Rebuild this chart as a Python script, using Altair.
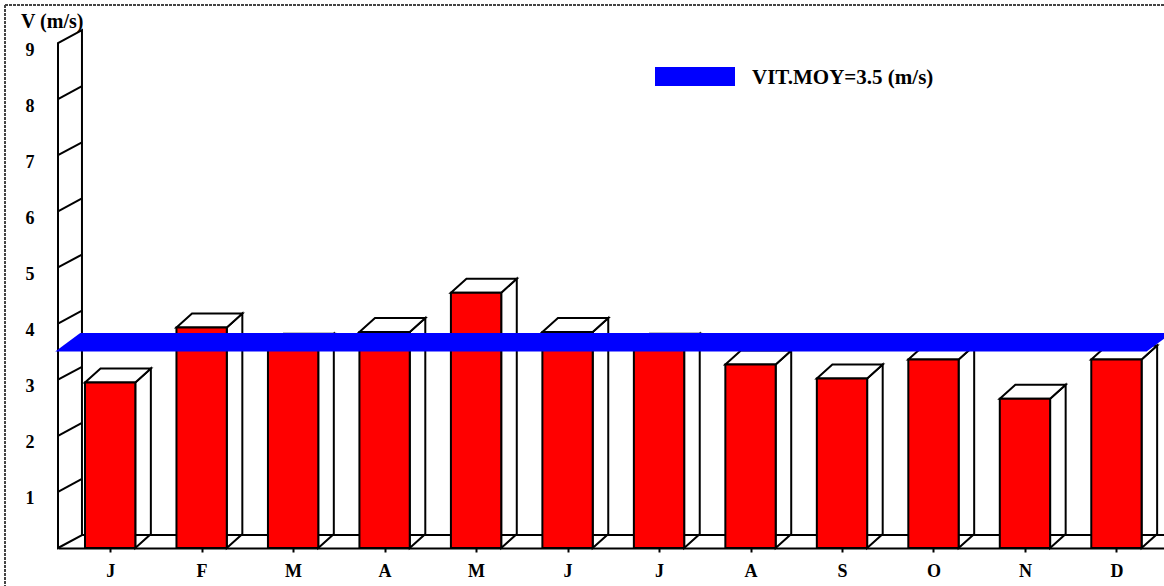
import json

import altair as alt
import pandas as pd

# Monthly mean wind speed (m/s)
months = ["J", "F", "M", "A", "M", "J", "J", "A", "S", "O", "N", "D"]
speeds = [2.95, 3.93, 3.57, 3.85, 4.55, 3.85, 3.57, 3.27, 3.02, 3.36, 2.66, 3.36]
mean_speed = 3.5
y_ticks = [1, 2, 3, 4, 5, 6, 7, 8, 9]
y_top = 9

# pseudo-3D geometry, expressed in axis units
bar_half = 0.275
bar_dx, bar_dy = 0.17, 0.25
wall_x, wall_dx, wall_dy = -0.57, 0.262, 0.23
x_end = 11.52
band_x0, band_x1 = -0.6, 11.33
band_dx, band_dy = 0.273, 0.33

W, H = 1106, 505
PAD = {"left": 58, "top": 43, "right": 0, "bottom": 38}
FONT = "Liberation Serif"
RED = "#ff0000"
BLUE = "#0000ff"

x_scale = alt.Scale(domain=[wall_x, x_end], nice=False, zero=False)
y_scale = alt.Scale(domain=[0, y_top], nice=False, zero=True)

x_axis = alt.Axis(
    values=list(range(len(months))),
    labelExpr=json.dumps(months) + "[datum.value]",
    title=None, grid=False,
    domain=True, domainColor="black", domainWidth=2,
    ticks=True, tickSize=4, tickWidth=2, tickColor="black",
    labelFont=FONT, labelFontWeight="bold", labelFontSize=18,
    labelColor="black", labelPadding=10, labelAngle=0,
)
y_axis = alt.Axis(
    values=y_ticks, title=None, grid=False, domain=False, ticks=False,
    labelFont=FONT, labelFontWeight="bold", labelFontSize=18,
    labelColor="black", labelPadding=24, labelOffset=7,
)


def X(field):
    return alt.X(field, type="quantitative", scale=x_scale, axis=x_axis)


def Y(field):
    return alt.Y(field, type="quantitative", scale=y_scale, axis=y_axis)


# white faces: left wall, bar side faces, bar top faces
rows = [
    dict(face="wall", x=wall_x, y=0, y2=y_top),
    dict(face="wall", x=wall_x + wall_dx, y=wall_dy, y2=y_top + wall_dy),
]
for i, v in enumerate(speeds):
    left, right = i - bar_half, i + bar_half
    side = f"side{i}"
    rows += [
        dict(face=side, x=right, y=0, y2=v),
        dict(face=side, x=right + bar_dx, y=bar_dy, y2=v + bar_dy),
    ]
    top = f"top{i}"
    rows += [
        dict(face=top, x=left, y=v, y2=v),
        dict(face=top, x=left + bar_dx, y=v, y2=v + bar_dy),
        dict(face=top, x=right, y=v, y2=v + bar_dy),
        dict(face=top, x=right + bar_dx, y=v + bar_dy, y2=v + bar_dy),
    ]
faces = pd.DataFrame(rows)

wall_lines = pd.DataFrame(
    [dict(x=wall_x, y=k, x2=wall_x + wall_dx, y2=k + wall_dy) for k in y_ticks[:-1]]
    + [dict(x=wall_x + wall_dx, y=wall_dy, x2=x_end, y2=wall_dy)]
)

fronts = pd.DataFrame({
    "month": months,
    "l": [i - bar_half for i in range(len(months))],
    "r": [i + bar_half for i in range(len(months))],
    "y0": [0] * len(months),
    "v": speeds,
})

band = pd.DataFrame([
    dict(x=band_x0, y=mean_speed, y2=mean_speed),
    dict(x=band_x0 + band_dx, y=mean_speed, y2=mean_speed + band_dy),
    dict(x=band_x1, y=mean_speed, y2=mean_speed + band_dy),
    dict(x=band_x1 + band_dx, y=mean_speed + band_dy, y2=mean_speed + band_dy),
])

one = pd.DataFrame({"k": [0]})

frame_top = alt.Chart(one).mark_rule(color="#444444", strokeWidth=2, strokeDash=[3, 1]).encode(
    x=alt.value(-53), x2=alt.value(W), y=alt.value(-38)
)
frame_left = alt.Chart(one).mark_rule(color="#444444", strokeWidth=2, strokeDash=[3, 1]).encode(
    x=alt.value(-53), y=alt.value(-38), y2=alt.value(H + PAD["bottom"])
)

face_layer = alt.Chart(faces).mark_area(
    fill="white", stroke="black", strokeWidth=2, strokeJoin="miter"
).encode(x=X("x"), y=Y("y"), y2="y2:Q", detail="face:N")

line_layer = alt.Chart(wall_lines).mark_rule(color="black", strokeWidth=2).encode(
    x=X("x"), y=Y("y"), x2="x2:Q", y2="y2:Q"
)

front_layer = alt.Chart(fronts).mark_rect(
    fill=RED, stroke="black", strokeWidth=2
).encode(x=X("l"), x2="r:Q", y=Y("y0"), y2="v:Q")

band_layer = alt.Chart(band).mark_area(fill=BLUE, opacity=1).encode(
    x=X("x"), y=Y("y"), y2="y2:Q"
)

legend_box = alt.Chart(one).mark_rect(fill=BLUE).encode(
    x=alt.value(597), x2=alt.value(677), y=alt.value(24), y2=alt.value(43)
)
legend_text = alt.Chart(pd.DataFrame({"t": [f"VIT.MOY={mean_speed} (m/s)"]})).mark_text(
    font=FONT, fontWeight="bold", fontSize=21, color="black", align="left", baseline="middle"
).encode(text="t:N", x=alt.value(694), y=alt.value(35))

unit_text = alt.Chart(pd.DataFrame({"t": ["V (m/s)"]})).mark_text(
    font=FONT, fontWeight="bold", fontSize=20, color="black", align="left", baseline="alphabetic"
).encode(text="t:N", x=alt.value(-37), y=alt.value(-15))

chart = alt.layer(
    frame_top, frame_left,
    face_layer, line_layer, front_layer, band_layer,
    legend_box, legend_text, unit_text,
).properties(
    width=W, height=H, padding=PAD,
    autosize=alt.AutoSizeParams(type="none"),
    background="white",
).configure_view(stroke=None)

chart.save("out.html", embed_options={"renderer": "svg", "actions": False})
